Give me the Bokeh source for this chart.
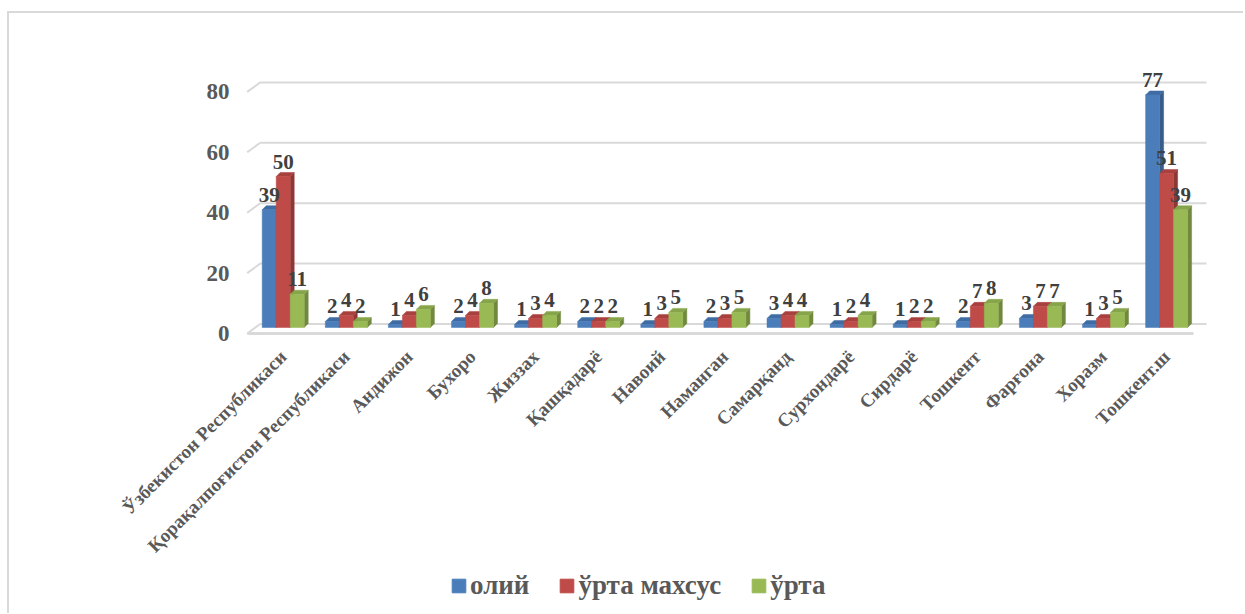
import math
from bokeh.plotting import figure
from bokeh.layouts import column
from bokeh.models import Range1d, FixedTicker, Legend, LegendItem, ColumnDataSource
from bokeh.core.properties import value
from bokeh.embed import file_html
from bokeh.resources import INLINE

# ---------------- data ----------------
categories = [
    "Ўзбекистон Республикаси", "Қорақалпоғистон Республикаси", "Андижон", "Бухоро",
    "Жиззах", "Қашқадарё", "Навоий", "Наманган", "Самарқанд", "Сурхондарё",
    "Сирдарё", "Тошкент", "Фарғона", "Хоразм", "Тошкент.ш",
]
oliy = [39, 2, 1, 2, 1, 2, 1, 2, 3, 1, 1, 2, 3, 1, 77]
urta_maxsus = [50, 4, 4, 4, 3, 2, 3, 3, 4, 2, 2, 7, 7, 3, 51]
urta = [11, 2, 6, 8, 4, 2, 5, 5, 4, 4, 2, 8, 7, 5, 39]
series_names = ["олий", "ўрта махсус", "ўрта"]
y_ticks = [0, 20, 40, 60, 80]

# ---------------- styles ----------------
FRONT = ["#4A7DBA", "#BE4B48", "#98B954"]
SIDE = ["#385D8A", "#8C3836", "#71893F"]
TOP = ["#3F6CA3", "#A8413E", "#86A44A"]
GRID = "#D9D9D9"
SERIF = "Liberation Serif"

OX, OY = 9, 13                     # canvas origin on the page
W = 1234
SPLIT = 567                        # page y where the legend strip starts
H = SPLIT - OY                     # main chart height
HL = 613 - SPLIT                   # legend strip height
BL, BT = 240 - OX, 60 - OY
BR = W - (1210 - OX)
BB = H - (340 - OY)
FW, FH = W - BL - BR, H - BT - BB
PXX, PXY = 63.1, 3.02              # pixels per data unit


def ux(px):
    return px / PXX


def uy(px):
    return px / PXY


x0 = -ux(42.7)
y0 = -uy(7)

p = figure(width=W, height=H, output_backend="svg", toolbar_location=None,
           x_range=Range1d(x0, x0 + FW / PXX), y_range=Range1d(y0, y0 + FH / PXY),
           min_border_left=BL, min_border_right=BR, min_border_top=BT, min_border_bottom=BB)
p.outline_line_color = None
p.xgrid.visible = False
p.ygrid.visible = False
p.background_fill_color = "white"
p.border_fill_color = "white"

# ---------------- walls / gridlines ----------------
xl_f, xr_f = -ux(36.0), ux(910.3)
dxw, dyw = ux(13), uy(9.5)
p.segment(x0=[xl_f + dxw] * len(y_ticks), y0=[v + dyw for v in y_ticks],
          x1=[xr_f + dxw] * len(y_ticks), y1=[v + dyw for v in y_ticks],
          line_color=GRID, line_width=2)
p.segment(x0=[xl_f] * len(y_ticks), y0=y_ticks,
          x1=[xl_f + dxw] * len(y_ticks), y1=[v + dyw for v in y_ticks],
          line_color=GRID, line_width=2)
p.segment(x0=[xl_f], y0=[0], x1=[xr_f], y1=[0], line_color=GRID, line_width=3)

# ---------------- 3D bars ----------------
BW = ux(14)
b0 = uy(6)
ddx, ddy = ux(4), uy(4)
label_specs = []
for k, vals in enumerate([oliy, urta_maxsus, urta]):
    lefts = [i + (k - 1.5) * BW for i in range(len(vals))]
    rights = [l + BW for l in lefts]
    tops = [v + b0 for v in vals]
    side_xs = [[r, r, r + ddx, r + ddx] for r in rights]
    side_ys = [[b0, t, t + ddy, b0 + ddy] for t in tops]
    top_xs = [[l, r, r + ddx, l + ddx] for l, r in zip(lefts, rights)]
    top_ys = [[t, t, t + ddy, t + ddy] for t in tops]
    p.patches(xs=side_xs, ys=side_ys, fill_color=SIDE[k], line_color=SIDE[k], line_width=0.5)
    p.patches(xs=top_xs, ys=top_ys, fill_color=TOP[k], line_color=TOP[k], line_width=0.5)
    p.quad(left=lefts, right=rights, bottom=b0, top=tops,
           fill_color=FRONT[k], line_color=FRONT[k], line_width=0.5)
    label_specs.append(([l + BW / 2 for l in lefts], tops, [str(v) for v in vals]))

for xs, ys, txt in label_specs:
    p.text(x=xs, y=ys, text=txt, text_align="center", text_baseline="alphabetic",
           y_offset=-15, text_font=value(SERIF), text_font_style="bold",
           text_font_size="21px", text_color="#404040")

# ---------------- axes ----------------
p.yaxis.ticker = FixedTicker(ticks=y_ticks)
p.yaxis.axis_line_color = None
p.yaxis.major_tick_line_color = None
p.yaxis.minor_tick_line_color = None
p.yaxis.major_label_standoff = 5
p.yaxis.major_label_text_font = SERIF
p.yaxis.major_label_text_font_style = "bold"
p.yaxis.major_label_text_font_size = "23px"
p.yaxis.major_label_text_color = "#595959"

p.xaxis.ticker = FixedTicker(ticks=list(range(len(categories))))
p.xaxis.major_label_overrides = {i: c for i, c in enumerate(categories)}
p.xaxis.major_label_orientation = math.pi / 4
p.xaxis.axis_line_color = None
p.xaxis.major_tick_line_color = None
p.xaxis.minor_tick_line_color = None
p.xaxis.major_label_standoff = 7
p.xaxis.major_label_text_font = SERIF
p.xaxis.major_label_text_font_style = "bold"
p.xaxis.major_label_text_font_size = "19px"
p.xaxis.major_label_text_color = "#595959"

# ---------------- legend strip ----------------
lf = figure(width=W, height=HL, output_backend="svg", toolbar_location=None,
            x_range=Range1d(0, 1), y_range=Range1d(0, 1),
            min_border=0, min_border_left=0, min_border_right=0,
            min_border_top=0, min_border_bottom=0)
lf.axis.visible = False
lf.grid.visible = False
lf.outline_line_color = None
lf.background_fill_color = "white"
lf.border_fill_color = "white"
# swatch renderers for the legend keys (their one box lies outside the visible range)
swatch = ColumnDataSource(data=dict(left=[5], right=[6], bottom=[5], top=[6]))
leg_renderers = [lf.quad(left="left", right="right", bottom="bottom", top="top", source=swatch,
                         fill_color=c, line_color=c) for c in FRONT]
legend = Legend(items=[LegendItem(label=n, renderers=[r]) for n, r in zip(series_names, leg_renderers)],
                orientation="horizontal", location=(210, 12),
                glyph_width=17, glyph_height=17, label_standoff=3, spacing=29,
                label_text_baseline="alphabetic",
                padding=0, margin=0, border_line_color=None, background_fill_alpha=0,
                label_text_font=SERIF, label_text_font_style="bold",
                label_text_font_size="27px", label_text_color="#595959")
lf.add_layout(legend, "center")

layout = column(p, lf, spacing=0,
                styles={"margin-left": "7px", "margin-top": "11px",
                        "border-left": "2px solid #D9D9D9", "border-top": "2px solid #D9D9D9"})

open("out.html", "w").write(file_html(layout, INLINE))
